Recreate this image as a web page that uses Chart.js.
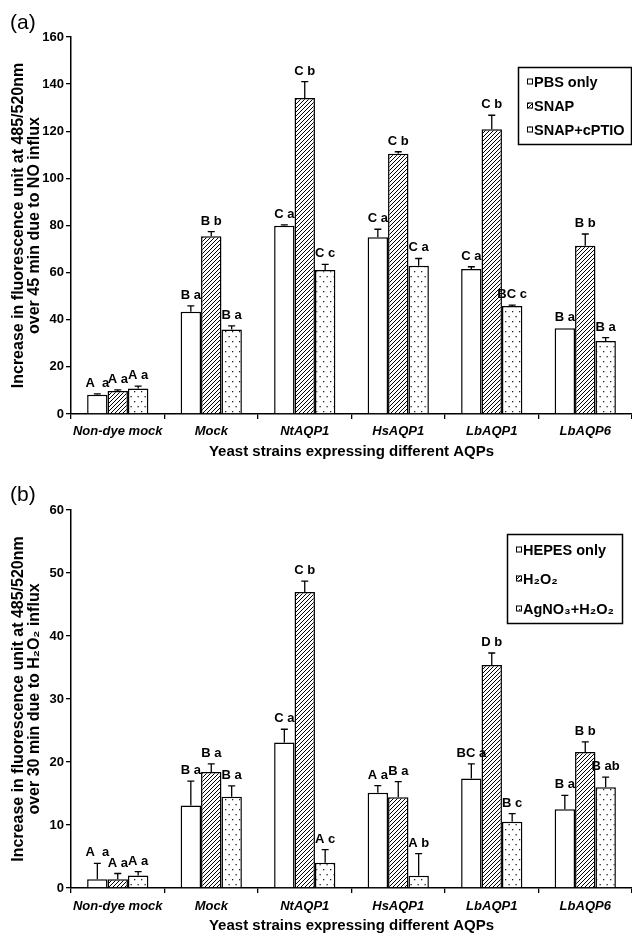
<!DOCTYPE html>
<html><head><meta charset="utf-8">
<script src="https://cdn.jsdelivr.net/npm/chart.js@4.4.0/dist/chart.umd.min.js"></script>
<style>
html,body{margin:0;padding:0;background:#fff;}
#wrap{position:relative;width:632px;height:937px;overflow:hidden;background:#fff;}
canvas{position:absolute;left:0;}
#ca{top:0;} #cb{top:468px;}
.panel{position:absolute;left:10px;font:21px "Liberation Sans",Arial,sans-serif;line-height:21px;color:#000;}
</style></head><body>
<div id="wrap">
<canvas id="ca" width="632" height="468"></canvas>
<canvas id="cb" width="632" height="469"></canvas>
<div class="panel" style="top:11px">(a)</div>
<div class="panel" style="top:483px">(b)</div>
</div>
<script>
// ---- data ----
const categories = ['Non-dye mock','Mock','NtAQP1','HsAQP1','LbAQP1','LbAQP6'];

// Panel (a)
const seriesNamesA = ['PBS only','SNAP','SNAP+cPTIO'];
const pbsA   = [8.2, 43.4, 79.9, 75.0, 61.5, 36.4];
const snapA  = [9.8, 75.4, 134.1, 110.5, 120.8, 71.4];
const cptioA = [10.8, 35.9, 61.1, 62.9, 45.8, 31.0];
const pbsErrA   = [0.3, 2.5, 0.4, 3.4, 1.0, 0];
const snapErrA  = [0.4, 2.0, 7.0, 0.8, 6.0, 5.0];
const cptioErrA = [1.0, 1.5, 2.4, 3.1, 0.4, 1.4];
const pbsLetA   = ['A  a','B a','C a','C a','C a','B a'];
const snapLetA  = ['A a','B b','C b','C b','C b','B b'];
const cptioLetA = ['A a','B a','C c','C a','BC c','B a'];
const yTicksA = {min:0, max:160, step:20};
const yTitleA = ['Increase in fluorescence unit at 485/520nm','over 45 min due to NO influx'];

// Panel (b)
const seriesNamesB = ['HEPES only','H\u2082O\u2082','AgNO\u2083+H\u2082O\u2082'];
const hepesB = [1.4, 13.1, 23.1, 15.1, 17.4, 12.5];
const h2o2B  = [1.4, 18.4, 47.0, 14.4, 35.4, 21.6];
const agB    = [2.0, 14.5, 4.0, 1.95, 10.5, 16.0];
const hepesErrB = [2.5, 3.85, 2.1, 1.15, 2.3, 2.2];
const h2o2ErrB  = [0.9, 1.3, 1.7, 2.5, 1.9, 1.6];
const agErrB    = [0.6, 1.7, 2.1, 3.5, 1.3, 1.6];
const hepesLetB = ['A  a','B a','C a','A a','BC a','B a'];
const h2o2LetB  = ['A a','B a','C b','B a','D b','B b'];
const agLetB    = ['A a','B a','A c','A b','B c','B ab'];
const yTicksB = {min:0, max:60, step:10};
const yTitleB = ['Increase in fluorescence unit at 485/520nm','over 30 min due to H\u2082O\u2082 influx'];

const xTitle = 'Yeast strains expressing different AQPs';

// ---- patterns ----
const FONT = '"Liberation Sans", Arial, sans-serif';
function hatchTile(){
  const c=document.createElement('canvas'); c.width=4; c.height=4;
  const x=c.getContext('2d'); x.fillStyle='#fff'; x.fillRect(0,0,4,4);
  x.strokeStyle='#000'; x.lineWidth=1;
  x.beginPath(); x.moveTo(0,4); x.lineTo(4,0); x.moveTo(-1,1); x.lineTo(1,-1); x.moveTo(3,5); x.lineTo(5,3); x.stroke();
  return c;
}
function dotTile(){
  const c=document.createElement('canvas'); c.width=7; c.height=10;
  const x=c.getContext('2d'); x.fillStyle='#fff'; x.fillRect(0,0,7,10);
  x.fillStyle='#222'; x.fillRect(1,1,1.3,1.3); x.fillRect(4.5,6,1.3,1.3);
  return c;
}

const errPlugin = {
  id:'errs',
  afterDatasetsDraw(chart){
    const ctx=chart.ctx, ys=chart.scales.y;
    chart.data.datasets.forEach((ds,di)=>{
      const meta=chart.getDatasetMeta(di);
      meta.data.forEach((bar,i)=>{
        const v=ds.data[i], e=ds.errs[i];
        const yTop=ys.getPixelForValue(v+e);
        ctx.save();
        ctx.strokeStyle='#000'; ctx.lineWidth=1.3;
        if(e>0){
          ctx.beginPath();
          ctx.moveTo(bar.x, bar.y); ctx.lineTo(bar.x, yTop);
          ctx.moveTo(bar.x-3.5, yTop); ctx.lineTo(bar.x+3.5, yTop);
          ctx.stroke();
        }
        ctx.fillStyle='#000'; ctx.font='bold 13px '+FONT;
        ctx.textAlign='center'; ctx.textBaseline='alphabetic';
        ctx.fillText(ds.letters[i], bar.x, yTop-7);
        ctx.restore();
      });
    });
  }
};

const legendPlugin = {
  id:'boxLegend',
  afterDraw(chart, args, o){
    const ctx=chart.ctx;
    ctx.save();
    ctx.fillStyle='#fff'; ctx.fillRect(o.x,o.y,o.w,o.h);
    ctx.strokeStyle='#000'; ctx.lineWidth=1.5; ctx.strokeRect(o.x,o.y,o.w,o.h);
    ctx.font='bold 14.5px '+FONT; ctx.textBaseline='middle'; ctx.textAlign='left';
    chart.data.datasets.forEach((ds,i)=>{
      const cy=o.rows[i];
      ctx.fillStyle=ds.backgroundColor; ctx.fillRect(o.mx, cy-4.5, 6, 6);
      ctx.lineWidth=1; ctx.strokeStyle='#000'; ctx.strokeRect(o.mx+0.5, cy-4, 5, 5);
      ctx.fillStyle='#000'; ctx.fillText(ds.label, o.tx, cy);
    });
    ctx.restore();
  }
};

function build(canvasId, names, vals, errs, lets, yt, ytitle, lay){
  const cv=document.getElementById(canvasId);
  const ctx=cv.getContext('2d');
  const fills=['#ffffff', ctx.createPattern(hatchTile(),'repeat'), ctx.createPattern(dotTile(),'repeat')];
  const datasets=names.map((n,i)=>({
    label:n, data:vals[i], errs:errs[i], letters:lets[i],
    backgroundColor:fills[i], borderColor:'#000', borderWidth:1.5,
    categoryPercentage:0.655, barPercentage:1.0
  }));
  return new Chart(cv,{
    type:'bar',
    data:{labels:categories, datasets},
    plugins:[errPlugin, legendPlugin],
    options:{
      responsive:false, animation:false, devicePixelRatio:1,
      layout:{padding:{top:lay.top,left:0,right:0,bottom:0}},
      plugins:{legend:{display:false}, tooltip:{enabled:false}, boxLegend:lay.legend},
      scales:{
        x:{
          grid:{display:true, drawOnChartArea:false, drawTicks:true, tickLength:5, color:'#000', lineWidth:1.3, offset:true},
          border:{display:true, color:'#000', width:1.5},
          ticks:{color:'#000', font:{family:FONT, size:13, weight:'bold', style:'italic'}, padding:lay.xpad, maxRotation:0, autoSkip:false},
          title:{display:true, text:xTitle, color:'#000', font:{family:FONT, size:15, weight:'bold', lineHeight:1.2}, padding:{top:0,bottom:lay.tpb}},
          afterFit(s){ s.height=lay.xh; }
        },
        y:{
          min:yt.min, max:yt.max,
          grid:{display:true, drawOnChartArea:false, drawTicks:true, tickLength:5, color:'#000', lineWidth:1.3},
          border:{display:true, color:'#000', width:1.5},
          ticks:{stepSize:yt.step, color:'#000', font:{family:FONT, size:13, weight:'bold'}, padding:2},
          title:{display:true, text:ytitle, color:'#000', font:{family:FONT, size:16, weight:'bold', lineHeight:1}, padding:{top:11,bottom:0}},
          afterFit(s){ s.width=71; }
        }
      }
    }
  });
}

build('ca', seriesNamesA, [pbsA,snapA,cptioA], [pbsErrA,snapErrA,cptioErrA], [pbsLetA,snapLetA,cptioLetA], yTicksA, yTitleA,
  {top:37, xh:54, xpad:5, tpb:7, legend:{x:518.5,y:67.5,w:113,h:77,rows:[83,107,131],mx:527,tx:534}});
build('cb', seriesNamesB, [hepesB,h2o2B,agB], [hepesErrB,h2o2ErrB,agErrB], [hepesLetB,h2o2LetB,agLetB], yTicksB, yTitleB,
  {top:42, xh:49, xpad:6, tpb:2, legend:{x:507.5,y:66.5,w:115,h:89,rows:[83,112,142],mx:516,tx:523}});
</script>
</body></html>
